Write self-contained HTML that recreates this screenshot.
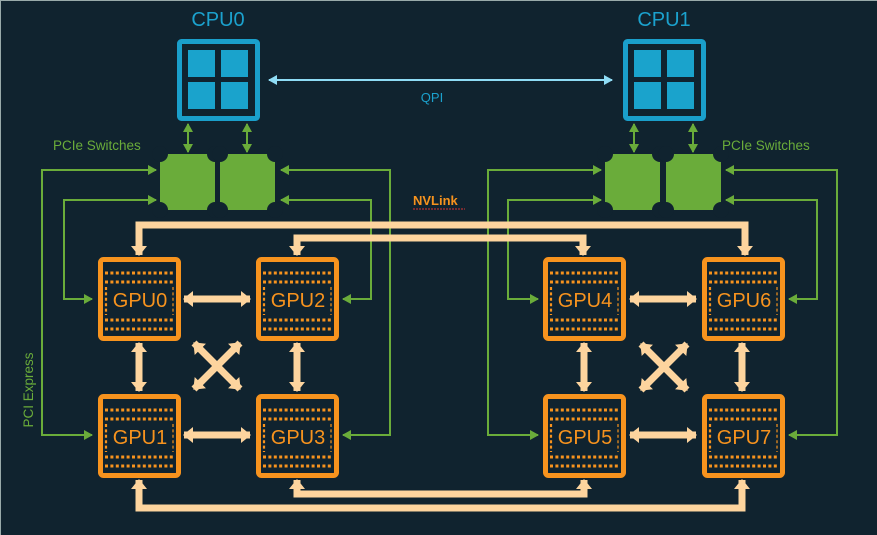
<!DOCTYPE html>
<html><head><meta charset="utf-8"><style>
html,body{margin:0;padding:0;background:#10232f;}
svg{display:block;font-family:"Liberation Sans",Arial,sans-serif;}
</style></head><body>
<svg width="877" height="535" viewBox="0 0 877 535" xmlns="http://www.w3.org/2000/svg">
<defs>
<marker id="pk" markerUnits="userSpaceOnUse" markerWidth="10" markerHeight="16" viewBox="0 0 10 16" refX="9" refY="8" orient="auto-start-reverse"><path d="M0,0 L10,8 L0,16 z" fill="#fdd49e"/></marker>
<marker id="gr" markerUnits="userSpaceOnUse" markerWidth="9" markerHeight="10" viewBox="0 0 9 10" refX="8" refY="5" orient="auto-start-reverse"><path d="M0,0 L9,5 L0,10 z" fill="#6aac3a"/></marker>
<marker id="cy" markerUnits="userSpaceOnUse" markerWidth="9" markerHeight="10" viewBox="0 0 9 10" refX="8" refY="5" orient="auto-start-reverse"><path d="M0,0 L9,5 L0,10 z" fill="#8fdcf5"/></marker>
<g id="gpu">
<rect x="2.5" y="2.5" width="78" height="79" rx="3" fill="#10232f" stroke="#f7931e" stroke-width="5"/>
<g stroke="#f7931e" stroke-width="3" stroke-dasharray="3 2.4">
<line x1="7" y1="16" x2="77" y2="16"/><line x1="7" y1="25" x2="77" y2="25"/>
<line x1="7" y1="63" x2="77" y2="63"/><line x1="7" y1="72" x2="77" y2="72"/>
<line x1="8" y1="30" x2="8" y2="58" stroke-width="2.2"/><line x1="75" y1="30" x2="75" y2="58" stroke-width="2" stroke-opacity="0.6"/>
</g>
</g>
<g id="cpu">
<rect x="2.5" y="2.5" width="78" height="77" rx="2" fill="#10232f" stroke="#1a9fcb" stroke-width="5"/>
<rect x="11" y="11" width="27" height="27" fill="#1aa3cc"/><rect x="44" y="11" width="27" height="27" fill="#1aa3cc"/>
<rect x="11" y="43" width="27" height="27" fill="#1aa3cc"/><rect x="44" y="43" width="27" height="27" fill="#1aa3cc"/>
</g>
<g id="sw">
<rect x="0" y="0" width="55" height="56" fill="#6aac3a"/>
<circle cx="0" cy="0" r="8" fill="#10232f"/><circle cx="55" cy="0" r="8" fill="#10232f"/>
<circle cx="0" cy="56" r="8" fill="#10232f"/><circle cx="55" cy="56" r="8" fill="#10232f"/>
</g>
</defs>
<rect x="0" y="0" width="877" height="535" fill="#10232f"/>
<line x1="0" y1="0.5" x2="877" y2="0.5" stroke="#9aa" stroke-width="1"/>
<line x1="0.5" y1="0" x2="0.5" y2="535" stroke="#9aa" stroke-width="1"/>

<use href="#cpu" x="177" y="39"/>
<use href="#cpu" x="623" y="39"/>
<text x="218" y="26" font-size="20" fill="#1ba1cd" text-anchor="middle">CPU0</text>
<text x="664" y="26" font-size="20" fill="#1ba1cd" text-anchor="middle">CPU1</text>
<line x1="269" y1="80" x2="612" y2="80" stroke="#8fdcf5" stroke-width="2" marker-start="url(#cy)" marker-end="url(#cy)"/>
<text x="432" y="102" font-size="13" fill="#1ba1cd" text-anchor="middle">QPI</text>

<use href="#sw" x="160" y="154"/><use href="#sw" x="220" y="154"/>
<use href="#sw" x="605" y="154"/><use href="#sw" x="666" y="154"/>
<g stroke="#6aac3a" stroke-width="2" fill="none">
<line x1="188" y1="124" x2="188" y2="152" marker-start="url(#gr)" marker-end="url(#gr)"/>
<line x1="247" y1="124" x2="247" y2="152" marker-start="url(#gr)" marker-end="url(#gr)"/>
<line x1="634" y1="124" x2="634" y2="152" marker-start="url(#gr)" marker-end="url(#gr)"/>
<line x1="693" y1="124" x2="693" y2="152" marker-start="url(#gr)" marker-end="url(#gr)"/>
<path d="M92,435 L42,435 L42,170 L156,170" marker-start="url(#gr)" marker-end="url(#gr)"/>
<path d="M92,299 L64,299 L64,200 L156,200" marker-start="url(#gr)" marker-end="url(#gr)"/>
<path d="M343,435 L390,435 L390,170 L281,170" marker-start="url(#gr)" marker-end="url(#gr)"/>
<path d="M343,299 L371,299 L371,200 L281,200" marker-start="url(#gr)" marker-end="url(#gr)"/>
<path d="M538,435 L488,435 L488,170 L601,170" marker-start="url(#gr)" marker-end="url(#gr)"/>
<path d="M538,299 L508,299 L508,200 L601,200" marker-start="url(#gr)" marker-end="url(#gr)"/>
<path d="M789,435 L837,435 L837,170 L726,170" marker-start="url(#gr)" marker-end="url(#gr)"/>
<path d="M789,299 L817,299 L817,200 L726,200" marker-start="url(#gr)" marker-end="url(#gr)"/>
</g>
<text x="53" y="150" font-size="13.5" fill="#6aac3a">PCIe Switches</text>
<text x="722" y="150" font-size="13.5" fill="#6aac3a">PCIe Switches</text>
<text transform="translate(33,390) rotate(-90)" font-size="13.5" fill="#6aac3a" text-anchor="middle">PCI Express</text>
<text x="413" y="205" font-size="13" font-weight="bold" fill="#f7931e">NVLink</text>
<line x1="413" y1="209" x2="465" y2="209" stroke="#d33" stroke-width="1" stroke-dasharray="2 1"/>

<g stroke="#fdd49e" stroke-width="7" fill="none">
<path d="M139,255 L139,225 L745,225 L745,255" marker-start="url(#pk)" marker-end="url(#pk)"/>
<path d="M297,255 L297,238 L583,238 L583,255" marker-start="url(#pk)" marker-end="url(#pk)"/>
<path d="M139,480 L139,508 L742,508 L742,480" marker-start="url(#pk)" marker-end="url(#pk)"/>
<path d="M297,480 L297,494 L584,494 L584,480" marker-start="url(#pk)" marker-end="url(#pk)"/>
<line x1="184" y1="299" x2="250" y2="299" marker-start="url(#pk)" marker-end="url(#pk)"/>
<line x1="184" y1="435" x2="250" y2="435" marker-start="url(#pk)" marker-end="url(#pk)"/>
<line x1="630" y1="299" x2="696" y2="299" marker-start="url(#pk)" marker-end="url(#pk)"/>
<line x1="630" y1="435" x2="696" y2="435" marker-start="url(#pk)" marker-end="url(#pk)"/>
<line x1="139" y1="343" x2="139" y2="391" marker-start="url(#pk)" marker-end="url(#pk)"/>
<line x1="297" y1="343" x2="297" y2="391" marker-start="url(#pk)" marker-end="url(#pk)"/>
<line x1="584" y1="343" x2="584" y2="391" marker-start="url(#pk)" marker-end="url(#pk)"/>
<line x1="742" y1="343" x2="742" y2="391" marker-start="url(#pk)" marker-end="url(#pk)"/>
<line x1="194" y1="343" x2="240" y2="389" marker-start="url(#pk)" marker-end="url(#pk)"/>
<line x1="240" y1="343" x2="194" y2="389" marker-start="url(#pk)" marker-end="url(#pk)"/>
<line x1="641" y1="344" x2="687" y2="390" marker-start="url(#pk)" marker-end="url(#pk)"/>
<line x1="687" y1="344" x2="641" y2="390" marker-start="url(#pk)" marker-end="url(#pk)"/>
</g>

<use href="#gpu" x="98" y="257"/><use href="#gpu" x="256" y="257"/>
<use href="#gpu" x="98" y="394"/><use href="#gpu" x="256" y="394"/>
<use href="#gpu" x="543" y="257"/><use href="#gpu" x="702" y="257"/>
<use href="#gpu" x="543" y="394"/><use href="#gpu" x="702" y="394"/>
<g font-size="20" fill="#f7931e" text-anchor="middle">
<text x="140" y="307">GPU0</text><text x="298" y="307">GPU2</text>
<text x="140" y="444">GPU1</text><text x="298" y="444">GPU3</text>
<text x="585" y="307">GPU4</text><text x="744" y="307">GPU6</text>
<text x="585" y="444">GPU5</text><text x="744" y="444">GPU7</text>
</g>
</svg>
</body></html>
